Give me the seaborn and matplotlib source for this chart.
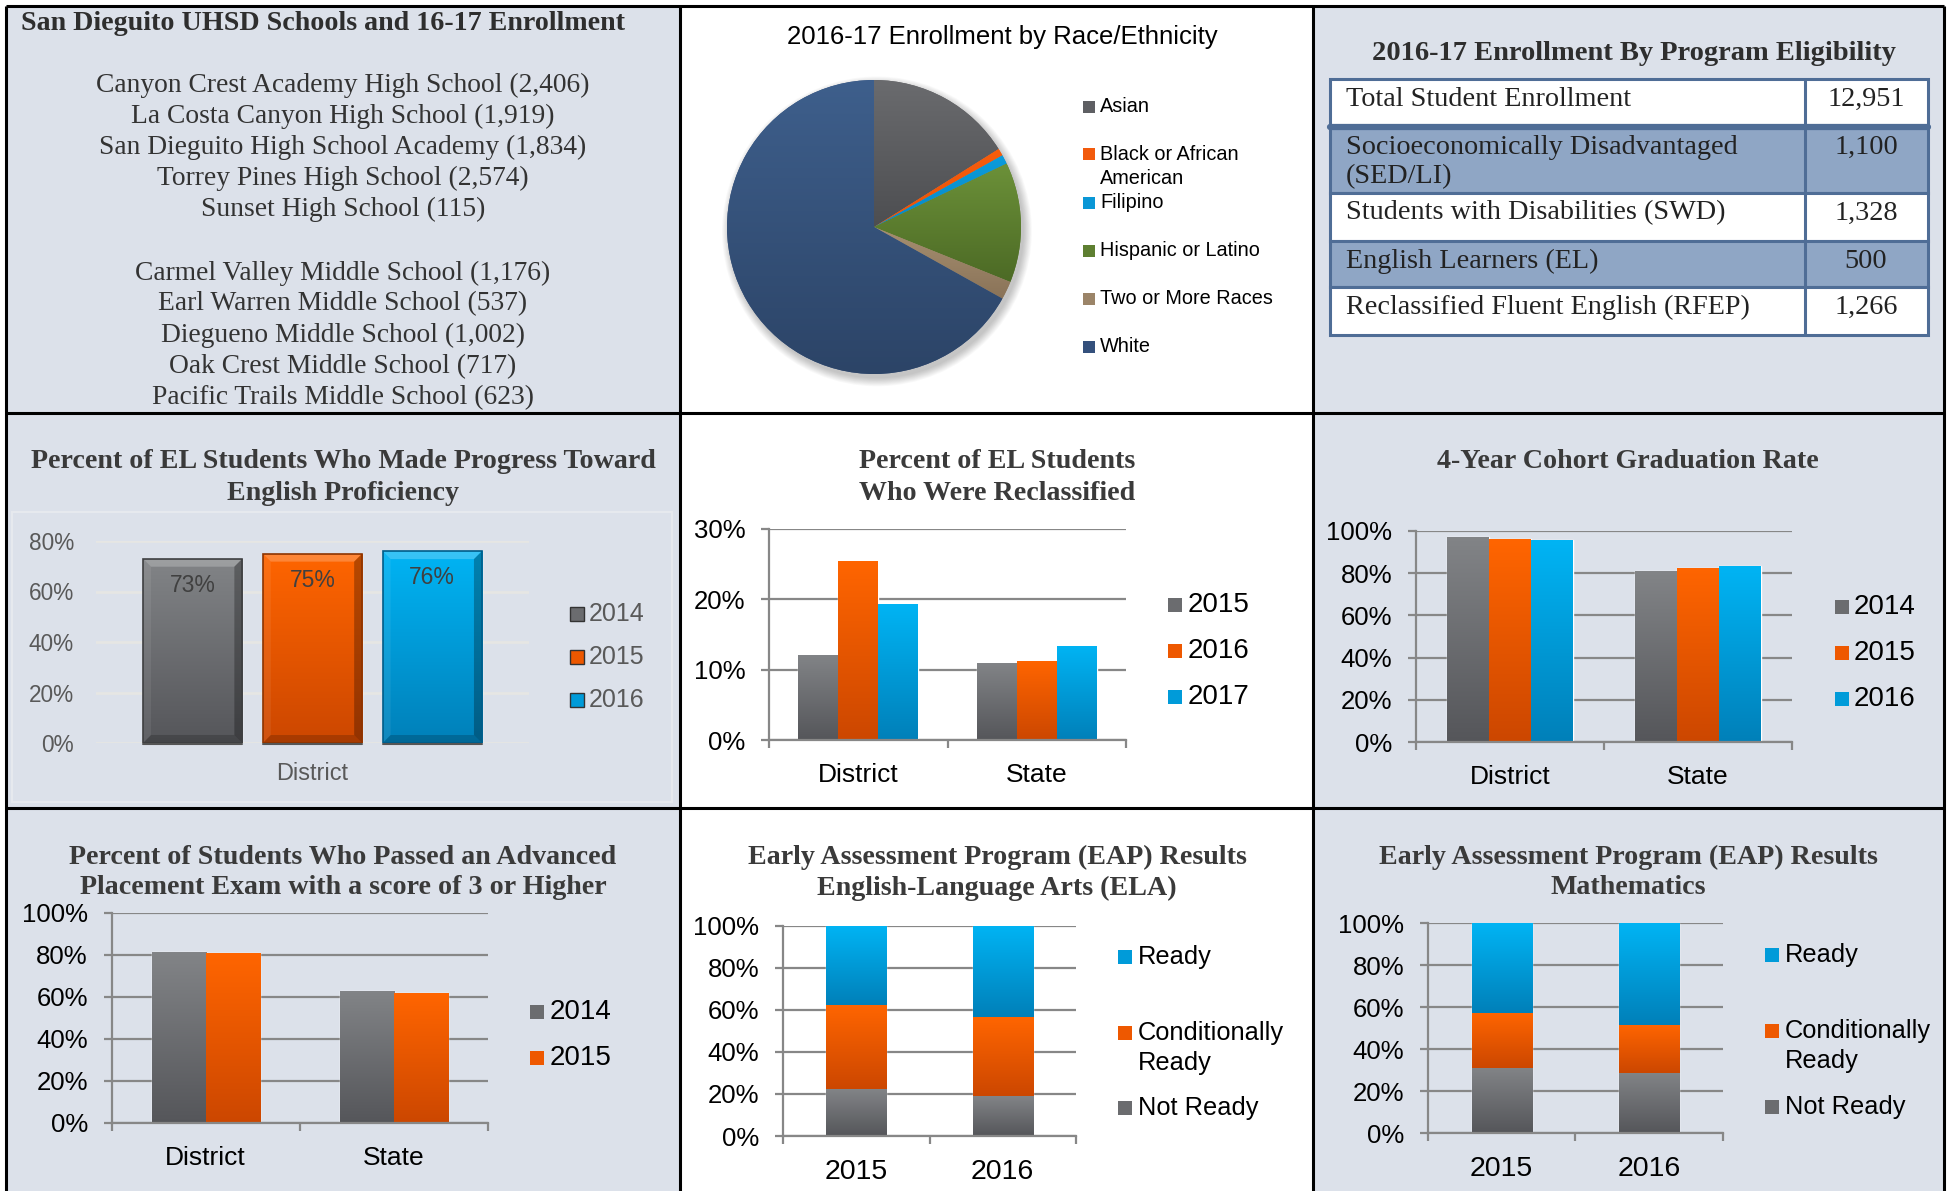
import numpy as np
import pandas as pd
import matplotlib
matplotlib.use("Agg")
import matplotlib.pyplot as plt
from matplotlib.patches import Rectangle, Polygon, Circle
from matplotlib.colors import to_rgb
import seaborn as sns

# ---------------- data ----------------
high_schools = ["Canyon Crest Academy High School", "La Costa Canyon High School",
                "San Dieguito High School Academy", "Torrey Pines High School", "Sunset High School"]
high_enroll = [2406, 1919, 1834, 2574, 115]
middle_schools = ["Carmel Valley Middle School", "Earl Warren Middle School", "Diegueno Middle School",
                  "Oak Crest Middle School", "Pacific Trails Middle School"]
middle_enroll = [1176, 537, 1002, 717, 623]

race_labels = ["Asian", "Black or African\nAmerican", "Filipino", "Hispanic or Latino",
               "Two or More Races", "White"]
race_share = [16.1, 0.8, 1.0, 13.2, 2.0, 66.9]

program_labels = ["Total Student Enrollment", "Socioeconomically Disadvantaged\n(SED/LI)",
                  "Students with Disabilities (SWD)", "English Learners (EL)",
                  "Reclassified Fluent English (RFEP)"]
program_counts = [12951, 1100, 1328, 500, 1266]

el_region = ["District"]
el_years = ["2014", "2015", "2016"]
el_progress = [73, 75, 76]

reclass_groups = ["District", "State"]
reclass_years = ["2015", "2016", "2017"]
reclass_district = [12.1, 25.4, 19.3]
reclass_state = [11.0, 11.3, 13.4]

grad_groups = ["District", "State"]
grad_years = ["2014", "2015", "2016"]
grad_district = [97.2, 96.2, 95.7]
grad_state = [81.0, 82.5, 83.4]

ap_groups = ["District", "State"]
ap_years = ["2014", "2015"]
ap_district = [81.3, 80.8]
ap_state = [62.9, 61.9]

eap_years = ["2015", "2016"]
eap_levels = ["Ready", "Conditionally\nReady", "Not Ready"]
ela_not_ready = [22.2, 19.0]
ela_cond_ready = [40.1, 37.4]
ela_ready = [37.7, 43.6]
math_not_ready = [31.2, 28.6]
math_cond_ready = [26.2, 23.0]
math_ready = [42.6, 48.4]

# ---------------- style ----------------
SERIF = ["Liberation Serif", "DejaVu Serif"]
SANS = ["Liberation Sans", "DejaVu Sans"]
sns.set_style("white")
plt.rcParams["font.family"] = SANS

GRAY, ORANGE, BLUE = "#6B6C6F", "#EE5800", "#009BD9"
GRADS = {GRAY: ("#828487", "#55565A"), ORANGE: ("#FF6500", "#CC4700"), BLUE: ("#00B4F4", "#0080B9")}
RACE_COLORS = ["#5E5F63", "#F25A0C", "#0A97D6", "#5E7F31", "#9B8468", "#34507C"]
RACE_TOP = ["#6A6B6E", "#F75D0C", "#0C9CDC", "#6C9139", "#A68F71", "#3E5F8C"]
RACE_BOT = ["#4D4E51", "#E95208", "#0888C4", "#4C6A25", "#8A7358", "#2C4467"]
PANEL_BG = "#DCE1EA"
LINE = "#878787"
TITLE_C = "#3A3A3A"

W, H = 1949, 1191
fig = plt.figure(figsize=(W / 100, H / 100), dpi=100)
fig.patch.set_facecolor("white")
bg = fig.add_axes([0, 0, 1, 1], zorder=-10)
bg.set_xlim(0, W)
bg.set_ylim(H, 0)
bg.axis("off")


def add_ax(x0, y0, x1, y1, **kw):
    return fig.add_axes([x0 / W, 1 - y1 / H, (x1 - x0) / W, (y1 - y0) / H], **kw)


cols = [6, 680, 1313, 1944]
rows = [6, 413, 808, H]
for c in (0, 2):
    bg.add_patch(Rectangle((cols[c], rows[0]), cols[c + 1] - cols[c], H - rows[0],
                           facecolor=PANEL_BG, edgecolor="none"))


def vgrad(top, bot, n=128):
    t = np.linspace(0, 1, n)[:, None, None]
    return (1 - t) * np.array(to_rgb(top)) + t * np.array(to_rgb(bot))


def gradient_patches(ax, patches=None):
    xl, yl = ax.get_xlim(), ax.get_ylim()
    for p in list(patches if patches is not None else ax.patches):
        fc = np.array(to_rgb(p.get_facecolor()))
        key = min(GRADS, key=lambda c: float(np.sum((np.array(to_rgb(c)) - fc) ** 2)))
        top, bot = GRADS[key]
        x0, y0, w, h = p.get_x(), p.get_y(), p.get_width(), p.get_height()
        if h <= 0:
            continue
        im = ax.imshow(vgrad(top, bot), extent=[x0, x0 + w, y0, y0 + h], origin="upper",
                       aspect="auto", zorder=p.get_zorder() + 0.01, interpolation="bilinear")
        im.set_clip_path(p)
    ax.set_xlim(xl)
    ax.set_ylim(yl)


def excel_axes(ax, ymax, step, ncat, fs=18.5, xfs=19):
    ax.set_facecolor("none")
    ax.set_ylim(0, ymax)
    ax.set_xlim(-0.5, ncat - 0.5)
    ticks = np.arange(0, ymax + 0.1, step)
    ax.set_yticks(ticks)
    ax.set_yticklabels([f"{int(t)}%" for t in ticks])
    ax.yaxis.grid(True, color=LINE, lw=1.6)
    ax.xaxis.grid(False)
    ax.set_axisbelow(True)
    for s in ("top", "right"):
        ax.spines[s].set_visible(False)
    for s in ("left", "bottom"):
        ax.spines[s].set_color(LINE)
        ax.spines[s].set_linewidth(1.6)
    ax.tick_params(axis="y", length=6, width=1.6, color=LINE, pad=11, labelsize=fs,
                   labelcolor="black", left=True)
    ax.set_xticks(np.arange(-0.5, ncat, 1), minor=True)
    ax.tick_params(axis="x", which="major", length=0, pad=16.5, labelsize=xfs,
                   labelcolor="black", bottom=True)
    ax.tick_params(axis="x", which="minor", length=6, width=1.6, color=LINE, bottom=True)
    ax.set_xlabel("")
    ax.set_ylabel("")


def legend_block(entries, x_sq, x_txt, sq, fs, tcolor="black", spacing=30, edge=None):
    for label, color, y in entries:
        bg.add_patch(Rectangle((x_sq, y - sq / 2), sq, sq, facecolor=color,
                               edgecolor=edge if edge else "none", lw=1))
        for j, line in enumerate(label.split("\n")):
            bg.text(x_txt, y + j * spacing, line, fontsize=fs, color=tcolor,
                    ha="left", va="center")


def chart_title(x, y, text, size=20.2, spacing=31):
    for j, line in enumerate(text.split("\n")):
        bg.text(x, y + j * spacing, line, ha="center", va="center", family=SERIF,
                weight="bold", size=size, color=TITLE_C)


# ---------------- panel 1: schools list ----------------
bg.text(21, 24, "San Dieguito UHSD Schools and 16-17 Enrollment", family=SERIF,
        weight="bold", size=20.2, color="#2E2E2E", ha="left", va="center")
for i, (n, e) in enumerate(zip(high_schools, high_enroll)):
    bg.text(343, 85 + i * 31.2, f"{n} ({e:,})", family=SERIF, size=19.8, color="#333333",
            ha="center", va="center")
for i, (n, e) in enumerate(zip(middle_schools, middle_enroll)):
    bg.text(343, 273 + i * 31.1, f"{n} ({e:,})", family=SERIF, size=19.8, color="#333333",
            ha="center", va="center")

# ---------------- panel 2: pie ----------------
bg.text(1002, 37, "2016-17 Enrollment by Race/Ethnicity", fontsize=18.5, color="black",
        ha="center", va="center")
axp = add_ax(727, 80, 1021, 374)
for k in range(10):
    axp.add_patch(Circle((0.02, -0.03), 1.0 + 0.006 * k, facecolor="black", alpha=0.025,
                         edgecolor="none", zorder=0, clip_on=False))
wedges, _ = axp.pie(race_share, colors=RACE_COLORS, startangle=90, counterclock=False,
                    wedgeprops=dict(linewidth=0))
for wdg, top_c, bot_c in zip(wedges, RACE_TOP, RACE_BOT):
    wdg.set_zorder(1)
    ext = wdg.get_path().get_extents()
    im = axp.imshow(vgrad(top_c, bot_c), extent=[ext.x0, ext.x1, ext.y0, ext.y1],
                    origin="upper", aspect="auto", zorder=1.01, interpolation="bilinear")
    im.set_clip_path(wdg)
axp.set_xlim(-1, 1)
axp.set_ylim(-1, 1)
axp.set_aspect("equal")
axp.axis("off")
pie_y = [107, 154, 203, 251, 299, 347]
legend_block(list(zip(race_labels, RACE_COLORS, pie_y)), 1083, 1100, 12, 14.3, spacing=24)

# ---------------- panel 3: table ----------------
bg.text(1634, 53, "2016-17 Enrollment By Program Eligibility", family=SERIF, weight="bold",
        size=20.5, color="#2E2E2E", ha="center", va="center")
row_edges = [79, 127, 193, 241, 287, 335]
tx0, tx1, tcol = 1330, 1928, 1805
TB, SHADE = "#4F6D96", "#8FA6C5"
for i, (lab, cnt) in enumerate(zip(program_labels, program_counts)):
    y0, y1 = row_edges[i], row_edges[i + 1]
    bg.add_patch(Rectangle((tx0, y0), tx1 - tx0, y1 - y0, facecolor=SHADE if i % 2 else "white",
                           edgecolor=TB, lw=2.2))
    bg.plot([tcol, tcol], [y0, y1], color=TB, lw=2.2)
    for j, line in enumerate(lab.split("\n")):
        bg.text(1346, y0 + 20 + j * 30, line, family=SERIF, size=20.3, color="#222222",
                ha="left", va="center")
    bg.text(1866, y0 + 20, f"{cnt:,}", family=SERIF, size=20.3, color="#222222",
            ha="center", va="center")
bg.plot([tx0, tx1], [row_edges[1], row_edges[1]], color=TB, lw=4.5)

# ---------------- panel 4: EL progress ----------------
bg.add_patch(Rectangle((12.5, 512), 660, 290, facecolor="none", edgecolor="#E6E9EE", lw=1.5))
chart_title(343, 462, "Percent of EL Students Who Made Progress Toward\nEnglish Proficiency")
ax4 = add_ax(96, 541, 529, 743)
df4 = pd.DataFrame({"region": el_region * len(el_years), "year": el_years, "value": el_progress})
sns.barplot(df4, x="region", y="value", hue="year", hue_order=el_years,
            palette=[GRAY, ORANGE, BLUE], width=0.83, gap=0.171, saturation=1,
            errorbar=None, legend=False, ax=ax4, zorder=2)
ax4.set_facecolor("none")
ax4.set_ylim(0, 80)
ax4.set_xlim(-0.5, 0.5)
ax4.set_yticks([0, 20, 40, 60, 80])
ax4.set_yticklabels([f"{v}%" for v in [0, 20, 40, 60, 80]])
ax4.yaxis.grid(True, color="#E6E6E4", lw=2)
ax4.set_axisbelow(True)
for s in ax4.spines.values():
    s.set_visible(False)
ax4.tick_params(axis="y", length=0, pad=16, labelsize=16.3, labelcolor="#595959")
ax4.tick_params(axis="x", length=0, pad=14, labelsize=16.9, labelcolor="#595959")
ax4.set_xlabel("")
ax4.set_ylabel("")
edges4 = {GRAY: "#3E3F41", ORANGE: "#8C3400", BLUE: "#005C88"}
bars4 = list(ax4.patches)
gradient_patches(ax4, bars4)
dx, dy = 8 / 433, 8 / (202 / 80)
for p, v in zip(bars4, el_progress):
    fc = np.array(to_rgb(p.get_facecolor()))
    key = min(edges4, key=lambda c: float(np.sum((np.array(to_rgb(c)) - fc) ** 2)))
    x0, x1 = p.get_x(), p.get_x() + p.get_width()
    y0, y1 = p.get_y(), p.get_y() + p.get_height()
    xi0, xi1, yi0, yi1 = x0 + dx, x1 - dx, y0 + dy, y1 - dy
    z = p.get_zorder() + 0.05
    for poly, col, a in (
        ([(x0, y1), (x1, y1), (xi1, yi1), (xi0, yi1)], "white", 0.22),
        ([(x0, y0), (x1, y0), (xi1, yi0), (xi0, yi0)], "black", 0.18),
        ([(x0, y0), (x0, y1), (xi0, yi1), (xi0, yi0)], "white", 0.07),
        ([(x1, y0), (x1, y1), (xi1, yi1), (xi1, yi0)], "black", 0.28),
    ):
        ax4.add_patch(Polygon(poly, closed=True, facecolor=col, alpha=a, edgecolor="none", zorder=z))
    ax4.add_patch(Rectangle((x0, y0), x1 - x0, y1 - y0, fill=False, edgecolor=edges4[key],
                            lw=1.2, zorder=z + 0.01))
    ax4.plot([x0, x1], [-0.5, -0.5], color="#555555", lw=1.5, zorder=z, clip_on=False)
    ax4.text((x0 + x1) / 2, v - 10.5, f"{v}%", ha="center", va="center",
             fontsize=16.5, color="#404040", zorder=6)
legend_block([(y, c, yy) for y, c, yy in zip(el_years, [GRAY, ORANGE, BLUE], [614, 657, 700])],
             570, 589, 14, 18, tcolor="#595959", edge="#333333")

# ---------------- panel 5: reclassified ----------------
chart_title(997, 462, "Percent of EL Students\nWho Were Reclassified")
ax5 = add_ax(769, 529, 1126, 740)
df5 = pd.DataFrame({"group": np.repeat(reclass_groups, len(reclass_years)),
                    "year": reclass_years * 2, "value": reclass_district + reclass_state})
sns.barplot(df5, x="group", y="value", hue="year", hue_order=reclass_years,
            palette=[GRAY, ORANGE, BLUE], width=0.67, saturation=1, errorbar=None,
            legend=False, ax=ax5, zorder=2)
excel_axes(ax5, 30, 10, 2)
gradient_patches(ax5)
legend_block(list(zip(reclass_years, [GRAY, ORANGE, BLUE], [605, 651, 697])), 1168, 1188, 14, 20)

# ---------------- panel 6: graduation ----------------
chart_title(1628, 462, "4-Year Cohort Graduation Rate")
ax6 = add_ax(1416, 531, 1792, 742)
df6 = pd.DataFrame({"group": np.repeat(grad_groups, len(grad_years)),
                    "year": grad_years * 2, "value": grad_district + grad_state})
sns.barplot(df6, x="group", y="value", hue="year", hue_order=grad_years,
            palette=[GRAY, ORANGE, BLUE], width=0.67, saturation=1, errorbar=None,
            legend=False, ax=ax6, zorder=2)
excel_axes(ax6, 100, 20, 2)
gradient_patches(ax6)
legend_block(list(zip(grad_years, [GRAY, ORANGE, BLUE], [607, 653, 699])), 1835, 1854, 14, 20)

# ---------------- panel 7: AP ----------------
chart_title(343, 857, "Percent of Students Who Passed an Advanced\nPlacement Exam with a score of 3 or Higher")
ax7 = add_ax(111.6, 913, 488, 1123)
df7 = pd.DataFrame({"group": np.repeat(ap_groups, len(ap_years)),
                    "year": ap_years * 2, "value": ap_district + ap_state})
sns.barplot(df7, x="group", y="value", hue="year", hue_order=ap_years,
            palette=[GRAY, ORANGE], width=0.575, saturation=1, errorbar=None,
            legend=False, ax=ax7, zorder=2)
excel_axes(ax7, 100, 20, 2)
gradient_patches(ax7)
legend_block(list(zip(ap_years, [GRAY, ORANGE], [1012, 1058])), 530, 550, 14, 20)


# ---------------- panels 8/9: EAP stacked ----------------
def stacked(ax, nr, cr, rd):
    tot2 = np.add(nr, cr)
    tot3 = np.add(tot2, rd)
    for vals, col in ((tot3, BLUE), (tot2, ORANGE), (nr, GRAY)):
        sns.barplot(x=eap_years, y=list(vals), color=col, width=0.41, saturation=1,
                    errorbar=None, ax=ax, zorder=2)
    # turn the overlaid bars into true stacked segments
    groups = {}
    for p in ax.patches:
        groups.setdefault(round(p.get_x(), 4), []).append(p)
    for ps in groups.values():
        ps.sort(key=lambda q: q.get_height())
        base = 0.0
        for q in ps:
            top = q.get_height()
            q.set_y(base)
            q.set_height(top - base)
            base = top
    excel_axes(ax, 100, 20, 2, xfs=20.5)
    gradient_patches(ax)


chart_title(997, 857, "Early Assessment Program (EAP) Results\nEnglish-Language Arts (ELA)")
ax8 = add_ax(783, 925.7, 1076, 1136)
stacked(ax8, ela_not_ready, ela_cond_ready, ela_ready)
legend_block(list(zip(eap_levels, [BLUE, ORANGE, GRAY], [957, 1033, 1108])), 1118, 1138, 14, 18.3)

chart_title(1628, 857, "Early Assessment Program (EAP) Results\nMathematics")
ax9 = add_ax(1428, 923.3, 1723, 1133.3)
stacked(ax9, math_not_ready, math_cond_ready, math_ready)
legend_block(list(zip(eap_levels, [BLUE, ORANGE, GRAY], [955, 1031, 1107])), 1765, 1785, 14, 18.3)

# ---------------- panel borders ----------------
top = fig.add_axes([0, 0, 1, 1], zorder=50)
top.set_xlim(0, W)
top.set_ylim(H, 0)
top.axis("off")
top.patch.set_alpha(0)
for x in cols:
    top.plot([x, x], [rows[0], H], color="black", lw=2.2, solid_capstyle="butt")
for y in rows[:-1]:
    top.plot([cols[0], cols[-1]], [y, y], color="black", lw=2.2, solid_capstyle="butt")

fig.savefig("out.png", dpi=100, facecolor="white")
